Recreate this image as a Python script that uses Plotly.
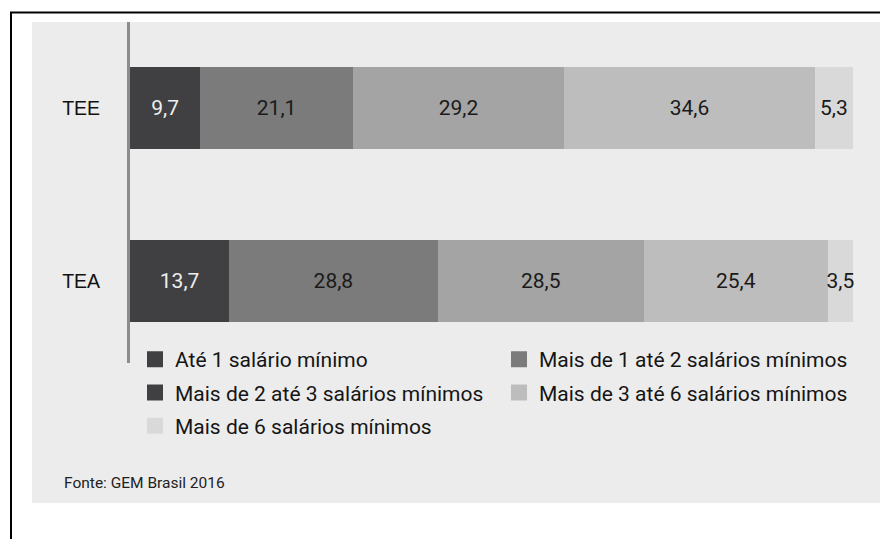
import plotly.graph_objects as go

# dados
categorias = ["TEE", "TEA"]
faixas = [
    "Até 1 salário mínimo",
    "Mais de 1 até 2 salários mínimos",
    "Mais de 2 até 3 salários mínimos",
    "Mais de 3 até 6 salários mínimos",
    "Mais de 6 salários mínimos",
]
tee = [9.7, 21.1, 29.2, 34.6, 5.3]
tea = [13.7, 28.8, 28.5, 25.4, 3.5]
fonte = "Fonte: GEM Brasil 2016"

cores_barra = ["#404042", "#7b7b7b", "#a4a4a4", "#bdbdbd", "#d9d9d9"]
# a legenda original repete o tom escuro na terceira faixa
cores_legenda = ["#404042", "#7b7b7b", "#404042", "#bdbdbd", "#d9d9d9"]
cores_texto = ["#eeeeee", "#1a1a1a", "#1a1a1a", "#1a1a1a", "#1a1a1a"]
legenda_de = ["legend", "legend2", "legend", "legend2", "legend"]

FONT = "Roboto, 'Open Sans', sans-serif"
W, H = 888, 539
OFF = 8  # margem do body na página
# área do gráfico em coordenadas da janela
L, R, T, B = 130, 853, 22, 363


def px(x):
    return (x - L) / (R - L)


def py(y):
    return (B - y) / (B - T)


fig = go.Figure()

for i, nome in enumerate(faixas):
    fig.add_trace(go.Bar(
        name=nome,
        y=categorias,
        x=[tee[i], tea[i]],
        orientation="h",
        marker=dict(color=cores_barra[i], line=dict(width=0)),
        texttemplate="%{x:.1f}",
        textposition="inside",
        insidetextanchor="middle",
        textangle=0,
        textfont=dict(family=FONT, size=21, color=cores_texto[i]),
        cliponaxis=False,
        showlegend=False,
        hoverinfo="skip",
    ))

# entradas da legenda
for i, nome in enumerate(faixas):
    fig.add_trace(go.Bar(
        name=nome,
        y=[None],
        x=[None],
        orientation="h",
        marker=dict(color=cores_legenda[i], line=dict(color=cores_legenda[i], width=4)),
        legend=legenda_de[i],
        legendgroup="g%d" % i,
        showlegend=True,
        hoverinfo="skip",
    ))

leg = dict(
    orientation="v",
    traceorder="grouped",
    tracegroupgap=3,
    yanchor="top",
    xanchor="left",
    bgcolor="rgba(0,0,0,0)",
    borderwidth=0,
    font=dict(family=FONT, size=21, color="#151515"),
    itemclick=False,
    itemdoubleclick=False,
)

fig.update_layout(
    width=W,
    height=H,
    margin=dict(l=L - OFF, r=W - (R - OFF), t=T - OFF, b=H - (B - OFF), pad=0),
    paper_bgcolor="white",
    plot_bgcolor="rgba(0,0,0,0)",
    barmode="stack",
    bargap=0.526,
    separators=", ",
    uniformtext=dict(minsize=21, mode="show"),
    showlegend=True,
    legend=dict(leg, x=px(135), y=py(339)),
    legend2=dict(leg, x=px(499), y=py(339)),
    xaxis=dict(range=[0, 99.9], visible=False, fixedrange=True),
    yaxis=dict(
        categoryorder="array",
        categoryarray=["TEA", "TEE"],
        range=[-0.474, 1.497],
        showline=True,
        linecolor="#8c8c8c",
        linewidth=3,
        showgrid=False,
        zeroline=False,
        ticks="",
        ticklabelstandoff=23,
        tickfont=dict(family="'Liberation Sans', Arial, sans-serif", size=19.5, color="#111111"),
        fixedrange=True,
    ),
    shapes=[
        # moldura externa
        dict(type="rect", xref="paper", yref="paper",
             x0=px(11), x1=px(905), y0=py(12.5), y1=py(560),
             line=dict(color="black", width=2), fillcolor="white", layer="below"),
        # painel cinza
        dict(type="rect", xref="paper", yref="paper",
             x0=px(32), x1=px(883), y0=py(22), y1=py(503),
             line=dict(width=0), fillcolor="#ececec", layer="below"),
    ],
    annotations=[
        dict(text=fonte, xref="paper", yref="paper", x=px(62), y=py(483),
             xanchor="left", yanchor="middle", showarrow=False,
             font=dict(family=FONT, size=15.5, color="#222222")),
    ],
)

fig.write_html("out.html", config={"displayModeBar": False})
